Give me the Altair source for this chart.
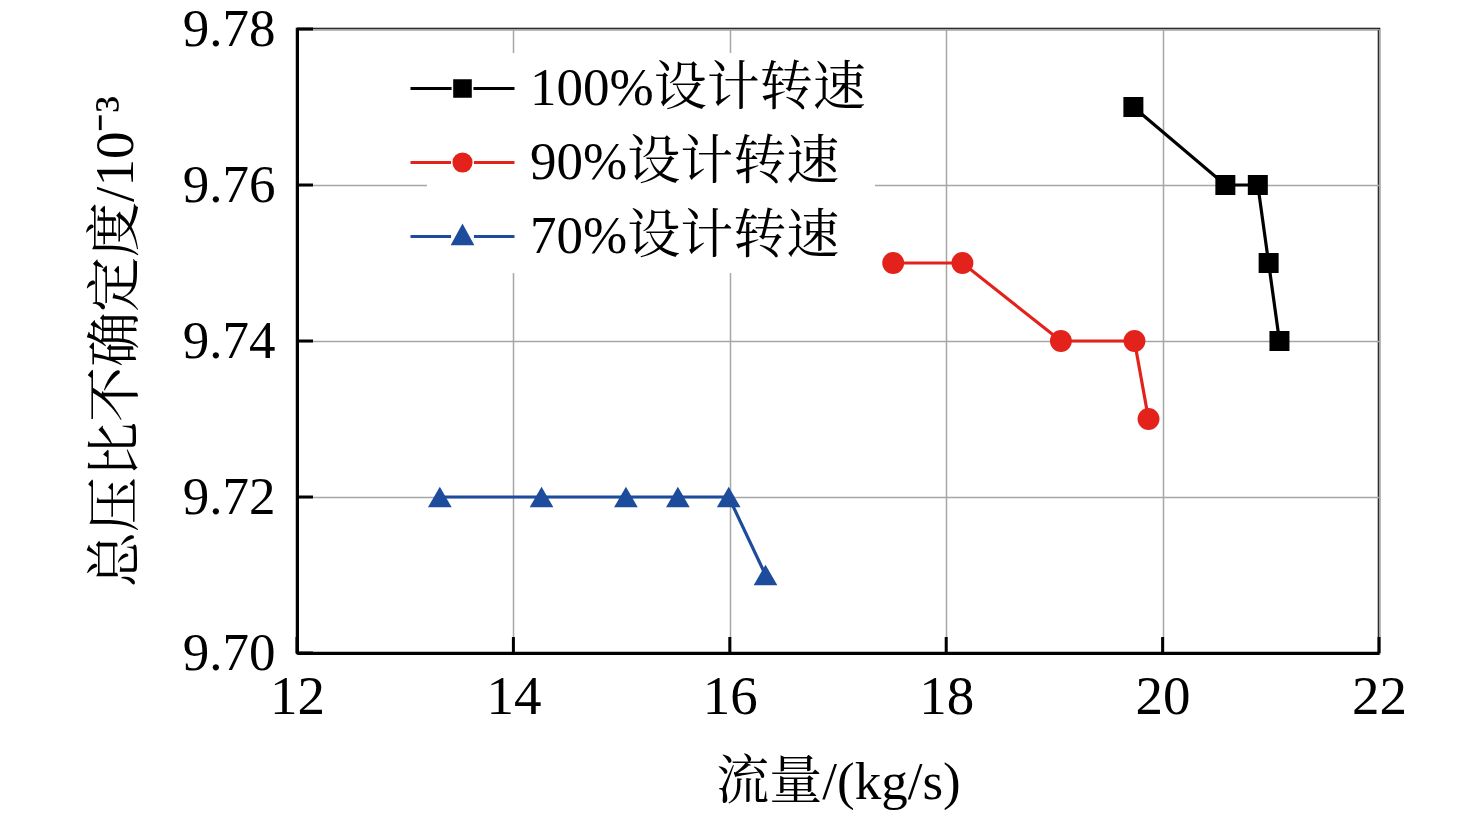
import altair as alt
import pandas as pd

series_names = ["100%设计转速", "90%设计转速", "70%设计转速"]
colors = ["#000000", "#e3221c", "#1c4c9b"]
marker_shapes = ["square", "circle", "triangle-up"]

s100_x = [19.73, 20.58, 20.88, 20.98, 21.08]
s100_y = [9.77, 9.76, 9.76, 9.75, 9.74]
s90_x = [17.51, 18.15, 19.06, 19.74, 19.87]
s90_y = [9.75, 9.75, 9.74, 9.74, 9.73]
s70_x = [13.32, 14.26, 15.04, 15.52, 15.99, 16.33]
s70_y = [9.72, 9.72, 9.72, 9.72, 9.72, 9.71]

x_ticks = [12, 14, 16, 18, 20, 22]
y_ticks = [9.70, 9.72, 9.74, 9.76, 9.78]

FONT = "Liberation Serif, Noto Serif CJK SC, Noto Sans CJK SC"
W, H = 1082, 624

# legend symbols: line - marker - line (unit = half of sqrt(symbol size))
legend_paths = [
    "M-2,0L-0.42,0M0.42,0L2,0M-0.3,-0.3L0.3,-0.3L0.3,0.3L-0.3,0.3Z",
    "M-2,0L-0.44,0M0.44,0L2,0M-0.33,0A0.33,0.33 0 1,0 0.33,0A0.33,0.33 0 1,0 -0.33,0Z",
    "M-2,0L-0.44,0M0.44,0L2,0M0,-0.38L0.36,0.28L-0.36,0.28Z",
]

xs = [s100_x, s90_x, s70_x]
ys = [s100_y, s90_y, s70_y]

x_enc = alt.X("x:Q", scale=alt.Scale(domain=[12, 22], nice=False, zero=False),
              axis=alt.Axis(values=x_ticks, title="流量/(kg/s)", format="d",
                            labelFont=FONT, labelFontSize=55, labelColor="black",
                            labelPadding=17, ticks=False, labelFlush=False,
                            titleFont=FONT, titleFontSize=53, titleFontWeight="normal",
                            titleColor="black", titlePadding=32,
                            domainColor="black", domainWidth=3,
                            grid=True, gridColor="#a6a6a6", gridWidth=1.5))
y_enc = alt.Y("y:Q", scale=alt.Scale(domain=[9.70, 9.78], nice=False, zero=False),
              axis=alt.Axis(values=y_ticks, title="总压比不确定度/10⁻³", format=".2f",
                            labelFont=FONT, labelFontSize=53, labelColor="black",
                            labelPadding=22, ticks=False, labelFlush=False,
                            titleFont=FONT, titleFontSize=55, titleFontWeight="normal",
                            titleColor="black", titlePadding=38,
                            domainColor="black", domainWidth=3,
                            grid=True, gridColor="#a6a6a6", gridWidth=1.5))

layers = []
for name, cx, cy, col, shp in zip(series_names, xs, ys, colors, marker_shapes):
    df = pd.DataFrame({"x": cx, "y": cy, "i": list(range(len(cx)))})
    base = alt.Chart(df)
    layers.append(base.mark_line(color=col, strokeWidth=3.2).encode(
        x=x_enc, y=y_enc, order="i:Q"))
    size = 400 if shp == "square" else (480 if shp == "circle" else 560)
    layers.append(base.mark_point(filled=True, shape=shp, size=size, color=col,
                                  opacity=1).encode(x=x_enc, y=y_enc))

# inward ticks
xt = pd.DataFrame({"x": x_ticks})
yt = pd.DataFrame({"y": y_ticks})
layers.append(alt.Chart(xt).mark_rule(color="black", strokeWidth=3).encode(
    x=x_enc, y=alt.value(H), y2=alt.value(H - 16)))
layers.append(alt.Chart(yt).mark_rule(color="black", strokeWidth=3).encode(
    y=y_enc, x=alt.value(0), x2=alt.value(16)))

# legend layer (no drawn marks, only legend)
leg_df = pd.DataFrame({"series": series_names, "x": [12, 12, 12], "y": [9.7, 9.7, 9.7]})
legend_layer = alt.Chart(leg_df).transform_filter("false").mark_point(
    filled=True, size=2704, strokeWidth=3, opacity=1).encode(
    x=x_enc, y=y_enc,
    shape=alt.Shape("series:N", scale=alt.Scale(domain=series_names, range=legend_paths), title=None),
    fill=alt.Fill("series:N", scale=alt.Scale(domain=series_names, range=colors), title=None),
    stroke=alt.Stroke("series:N", scale=alt.Scale(domain=series_names, range=colors), title=None),
)
layers.append(legend_layer)

chart = alt.layer(*layers).properties(
    width=W, height=H,
    autosize=alt.AutoSizeParams(type="none"),
    padding={"left": 289, "top": 21, "right": 89, "bottom": 157},
    background="white",
).configure_view(
    stroke="black", strokeWidth=2.5
).configure_legend(
    orient="none", legendX=130, legendY=24,
    labelFont=FONT, labelFontSize=53, labelColor="black", labelLimit=800,
    symbolSize=2704, symbolStrokeWidth=3, symbolOpacity=1,
    fillColor="white", padding=8, labelOffset=40, rowPadding=19,
    strokeColor="white",
)

chart.save("out.html", embed_options={"renderer": "svg", "actions": False})
